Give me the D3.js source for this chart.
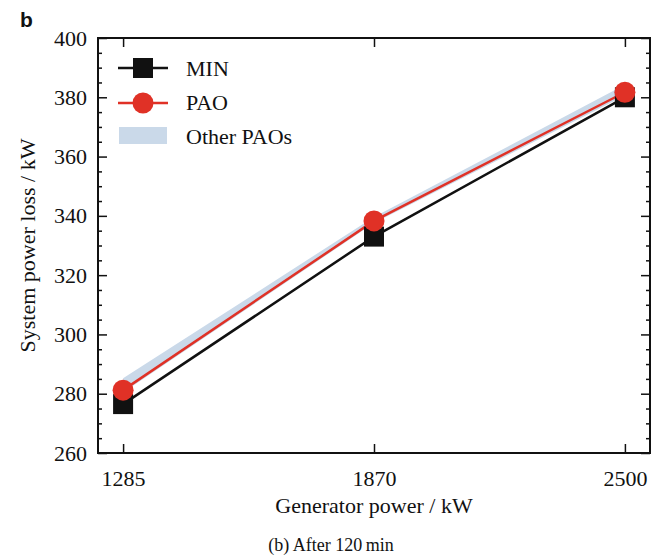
<!DOCTYPE html>
<html>
<head>
<meta charset="utf-8">
<script src="https://cdn.jsdelivr.net/npm/d3@7"></script>
<style>
  body { margin: 0; background: #fff; }
</style>
</head>
<body>
<script>
var categories = ["1285", "1870", "2500"];
var minLoss = [276.5, 333, 380];
var paoLoss = [281.2, 338.3, 381.7];
var otherLow = [280.4, 337.6, 380.6];
var otherHigh = [285.2, 339.6, 384.2];
var yTicks = [260, 280, 300, 320, 340, 360, 380, 400];

var serif = "'Liberation Serif', 'Times New Roman', Times, serif";
var width = 659, height = 555;
var margin = {left: 98, right: 9, top: 38, bottom: 102};

var svg = d3.select("body")
  .append("svg")
  .attr("width", width)
  .attr("height", height);

var x = d3.scalePoint()
  .domain(categories)
  .range([margin.left, width - margin.right])
  .padding(0.1);

var y = d3.scaleLinear()
  .domain([260, 400])
  .range([height - margin.bottom, margin.top]);

var minor = d3.range(260, 401, 5).filter(function(v) { return v % 20 != 0; });

// axes, ticks pointing inward
function styleAxis(g) {
  g.attr("font-family", null).attr("font-size", null);
  g.select(".domain").remove();
  g.selectAll("line").attr("stroke", "#111").attr("stroke-width", 1.5);
  g.selectAll("text")
    .style("font-family", serif)
    .style("font-size", "22px")
    .style("fill", "#111");
}

svg.append("g")
  .attr("transform", "translate(0," + y(260) + ")")
  .call(d3.axisBottom(x).tickSize(-9).tickPadding(17))
  .call(styleAxis);

svg.append("g")
  .attr("transform", "translate(0," + y(400) + ")")
  .call(d3.axisTop(x).tickSize(-9).tickFormat(""))
  .call(styleAxis);

svg.append("g")
  .attr("transform", "translate(" + margin.left + ",0)")
  .call(d3.axisLeft(y).tickValues(yTicks).tickSize(-9).tickPadding(11))
  .call(styleAxis);

svg.append("g")
  .attr("transform", "translate(" + margin.left + ",0)")
  .call(d3.axisLeft(y).tickValues(minor).tickSize(-4).tickFormat(""))
  .call(styleAxis);

svg.append("g")
  .attr("transform", "translate(" + (width - margin.right) + ",0)")
  .call(d3.axisRight(y).tickValues(yTicks).tickSize(-9).tickFormat(""))
  .call(styleAxis);

svg.append("g")
  .attr("transform", "translate(" + (width - margin.right) + ",0)")
  .call(d3.axisRight(y).tickValues(minor).tickSize(-4).tickFormat(""))
  .call(styleAxis);

svg.append("rect")
  .attr("x", margin.left)
  .attr("y", margin.top)
  .attr("width", width - margin.left - margin.right)
  .attr("height", height - margin.top - margin.bottom)
  .attr("fill", "none")
  .attr("stroke", "#111")
  .attr("stroke-width", 2);

// band of other PAOs
var area = d3.area()
  .x(function(d, i) { return x(categories[i]); })
  .y0(function(d, i) { return y(otherLow[i]); })
  .y1(function(d, i) { return y(otherHigh[i]); });

svg.append("path")
  .datum(categories)
  .attr("d", area)
  .attr("fill", "#cad9e9");

var line = d3.line()
  .x(function(d, i) { return x(categories[i]); })
  .y(function(d) { return y(d); });

svg.append("path")
  .datum(minLoss)
  .attr("d", line)
  .attr("fill", "none")
  .attr("stroke", "#111")
  .attr("stroke-width", 2.5);

svg.append("path")
  .datum(paoLoss)
  .attr("d", line)
  .attr("fill", "none")
  .attr("stroke", "#e03126")
  .attr("stroke-width", 2.5);

svg.selectAll(".sq")
  .data(minLoss)
  .enter()
  .append("rect")
    .attr("x", function(d, i) { return x(categories[i]) - 10; })
    .attr("y", function(d) { return y(d) - 10; })
    .attr("width", 20)
    .attr("height", 20)
    .attr("fill", "#111");

svg.selectAll(".dot")
  .data(paoLoss)
  .enter()
  .append("circle")
    .attr("cx", function(d, i) { return x(categories[i]); })
    .attr("cy", function(d) { return y(d); })
    .attr("r", 10.5)
    .attr("fill", "#e03126");

// legend
var lg = svg.append("g");
lg.append("line").attr("x1", 118).attr("x2", 168).attr("y1", 68).attr("y2", 68)
  .attr("stroke", "#111").attr("stroke-width", 2.5);
lg.append("rect").attr("x", 133).attr("y", 58).attr("width", 20).attr("height", 20).attr("fill", "#111");
lg.append("line").attr("x1", 118).attr("x2", 168).attr("y1", 103).attr("y2", 103)
  .attr("stroke", "#e03126").attr("stroke-width", 2.5);
lg.append("circle").attr("cx", 143).attr("cy", 103).attr("r", 10.5).attr("fill", "#e03126");
lg.append("rect").attr("x", 119).attr("y", 127).attr("width", 48).attr("height", 17).attr("fill", "#cad9e9");

var legendLabels = ["MIN", "PAO", "Other PAOs"];
lg.selectAll(".lt")
  .data(legendLabels)
  .enter()
  .append("text")
    .attr("x", 186)
    .attr("y", function(d, i) { return 68 + i * 34; })
    .attr("dy", "0.35em")
    .style("font-family", serif)
    .style("font-size", "22px")
    .style("fill", "#111")
    .text(function(d) { return d; });

// titles
svg.append("text")
  .attr("x", x("1870"))
  .attr("y", 513)
  .attr("text-anchor", "middle")
  .style("font-family", serif)
  .style("font-size", "22px")
  .style("fill", "#111")
  .text("Generator power / kW");

svg.append("text")
  .attr("transform", "translate(35," + y(330) + ") rotate(-90)")
  .attr("text-anchor", "middle")
  .style("font-family", serif)
  .style("font-size", "22px")
  .style("fill", "#111")
  .text("System power loss / kW");

svg.append("text")
  .attr("x", 331)
  .attr("y", 551)
  .attr("text-anchor", "middle")
  .style("font-family", serif)
  .style("font-size", "18px")
  .style("fill", "#111")
  .text("(b) After 120\u2009min");

svg.append("text")
  .attr("x", 20)
  .attr("y", 27)
  .style("font-family", "'Liberation Sans', Arial, sans-serif")
  .style("font-weight", "bold")
  .style("font-size", "21px")
  .style("fill", "#111")
  .text("b");
</script>
</body>
</html>
